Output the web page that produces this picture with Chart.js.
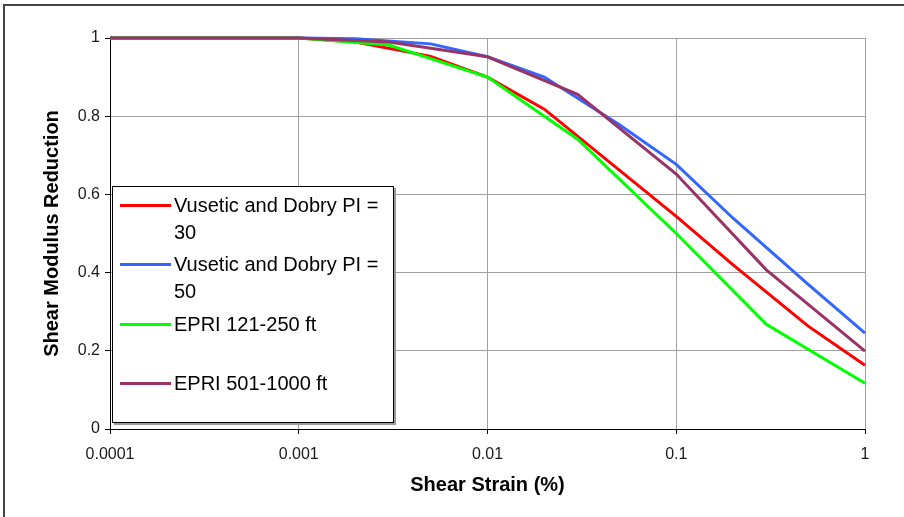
<!DOCTYPE html>
<html><head><meta charset="utf-8">
<script src="https://cdn.jsdelivr.net/npm/chart.js@4/dist/chart.umd.min.js"></script>
<style>
html,body{margin:0;padding:0;background:#fff;overflow:hidden}
#wrap{position:relative;width:904px;height:517px}
#c{position:absolute;left:0;top:0}
#frame{position:absolute;left:3px;top:4px;width:1000px;height:1000px;border-left:2px solid #444;border-top:2px solid #444;pointer-events:none}
#legend{position:absolute;left:112px;top:186px;width:282px;height:237px;border:1px solid #000;background:#fff;box-shadow:2px 2px 0 #999;font-family:"Liberation Sans",Arial,sans-serif;font-size:20px;color:#000;box-sizing:border-box}
.item{position:absolute;left:0;width:100%;height:59.5px}
.sw{position:absolute;left:7px;top:12px;width:51px;height:3px}
.lbl{position:absolute;left:61px;top:0;width:212px;line-height:27px;white-space:normal}
</style></head>
<body>
<div id="wrap">
<canvas id="c" width="904" height="517"></canvas>
<div id="legend"></div>
<div id="frame"></div>
</div>
<script>
// Data
const seriesNames = ['Vusetic and Dobry PI = 30', 'Vusetic and Dobry PI = 50', 'EPRI 121-250 ft', 'EPRI 501-1000 ft'];

const strainVD30 = [0.0001, 0.001, 0.002, 0.005, 0.01, 0.02, 0.1, 0.2, 0.5, 1];
const modVD30    = [1, 1, 0.99, 0.953, 0.90, 0.818, 0.544, 0.42, 0.263, 0.163];

const strainVD50 = [0.0001, 0.001, 0.002, 0.005, 0.01, 0.02, 0.05, 0.1, 0.2, 0.5, 1];
const modVD50    = [1, 1, 0.998, 0.985, 0.952, 0.90, 0.778, 0.677, 0.539, 0.37, 0.245];

const strainEPRI121 = [0.0001, 0.0003, 0.001, 0.003, 0.01, 0.03, 0.1, 0.3, 1];
const modEPRI121    = [1, 1, 1, 0.982, 0.90, 0.741, 0.50, 0.268, 0.117];

const strainEPRI501 = [0.0001, 0.0003, 0.001, 0.003, 0.01, 0.03, 0.1, 0.3, 1];
const modEPRI501    = [1, 1, 1, 0.99, 0.952, 0.856, 0.652, 0.407, 0.199];

const xTicks = [0.0001, 0.001, 0.01, 0.1, 1];
const xTickLabels = ['0.0001', '0.001', '0.01', '0.1', '1'];
const yTickLabels = ['0', '0.2', '0.4', '0.6', '0.8', '1'];

const colors = ['#FF0000', '#3366FF', '#00FF00', '#993366'];
const xs = [strainVD30, strainVD50, strainEPRI121, strainEPRI501];
const ys = [modVD30, modVD50, modEPRI121, modEPRI501];
const drawOrder = [3, 2, 1, 0];

const FONT = '"Liberation Sans", Arial, sans-serif';

const datasets = seriesNames.map((name, i) => ({
  label: name,
  data: xs[i].map((x, j) => ({x: x, y: ys[i][j]})),
  borderColor: colors[i],
  backgroundColor: colors[i],
  borderWidth: 3,
  pointRadius: 0,
  tension: 0,
  fill: false,
  clip: 6,
  order: drawOrder[i]
}));

const chart = new Chart(document.getElementById('c'), {
  type: 'line',
  data: { datasets: datasets },
  options: {
    responsive: false,
    animation: false,
    devicePixelRatio: 1,
    layout: { padding: { left: 0, top: 38, right: 39, bottom: 0 } },
    plugins: { legend: { display: false }, tooltip: { enabled: false } },
    scales: {
      x: {
        type: 'logarithmic',
        min: 0.0001, max: 1,
        afterBuildTicks: s => { s.ticks = xTicks.map(v => ({ value: v })); },
        afterFit: s => { s.height = 88; },
        ticks: {
          autoSkip: false, maxRotation: 0, minRotation: 0, padding: 11,
          color: '#1a1a1a', font: { family: FONT, size: 16 },
          callback: (v, i) => xTickLabels[i]
        },
        grid: { color: '#a0a0a0', lineWidth: 1, tickLength: 5, tickColor: '#000' },
        border: { color: '#000', width: 1 },
        title: {
          display: true, text: 'Shear Strain (%)', color: '#000',
          font: { family: FONT, size: 20, weight: 'bold' },
          padding: { top: 0, bottom: 20 }
        }
      },
      y: {
        type: 'linear',
        min: 0, max: 1,
        afterFit: s => { s.width = 110; },
        ticks: {
          stepSize: 0.2, padding: 5,
          color: '#1a1a1a', font: { family: FONT, size: 16 },
          callback: (v, i) => yTickLabels[i]
        },
        grid: { color: '#a0a0a0', lineWidth: 1, tickLength: 5, tickColor: '#000' },
        border: { color: '#000', width: 1 },
        title: {
          display: true, text: 'Shear Modulus Reduction', color: '#000',
          font: { family: FONT, size: 20, weight: 'bold' },
          padding: { top: 40, bottom: 0 }
        }
      }
    }
  }
});

// HTML legend built from the chart's datasets
const leg = document.getElementById('legend');
chart.data.datasets.forEach((ds, i) => {
  const item = document.createElement('div');
  item.className = 'item';
  item.style.top = (4.5 + i * 59.5) + 'px';
  const sw = document.createElement('div');
  sw.className = 'sw';
  sw.style.background = ds.borderColor;
  const lbl = document.createElement('div');
  lbl.className = 'lbl';
  lbl.textContent = ds.label;
  item.appendChild(sw);
  item.appendChild(lbl);
  leg.appendChild(item);
});
</script>
</body></html>
